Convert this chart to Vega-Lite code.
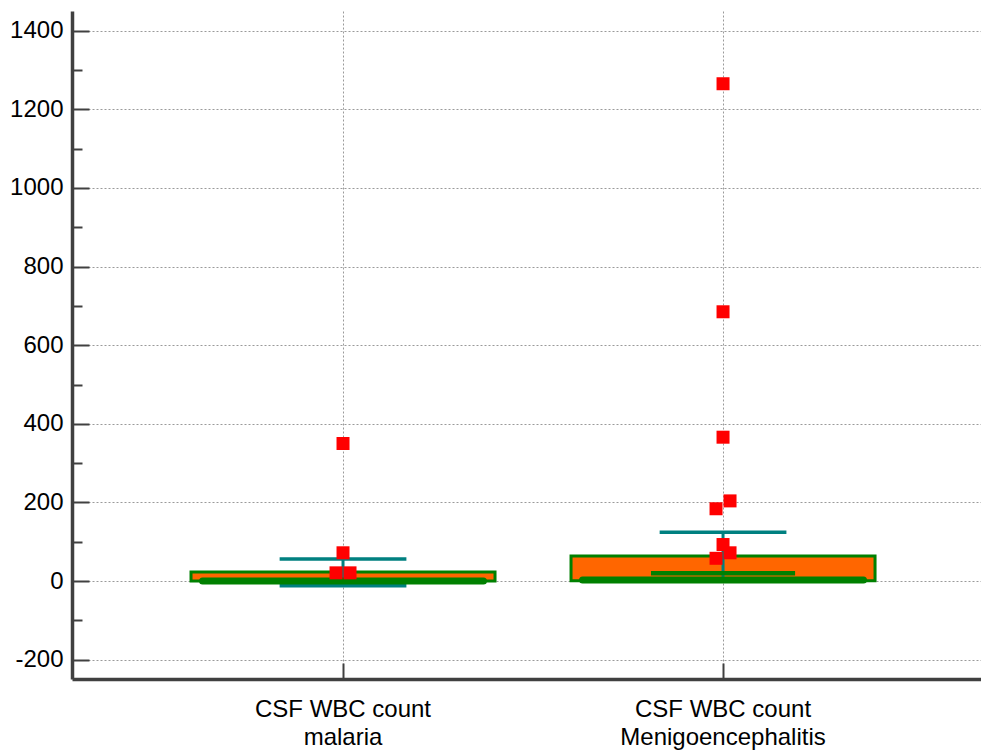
{
  "$schema": "https://vega.github.io/schema/vega-lite/v6.json",
  "width": 909,
  "height": 668,
  "autosize": {"type": "none"},
  "padding": {"left": 72, "top": 11, "right": 0, "bottom": 71},
  "background": "white",
  "config": {"view": {"stroke": null}, "font": "Liberation Sans"},
  "datasets": {
    "boxes": [
      {"group": "malaria", "q1": 0, "q3": 23, "med": 0, "wlo": -12, "whi": 56, "inner": null},
      {"group": "Menigoencephalitis", "q1": 1, "q3": 64, "med": 3, "wlo": 1, "whi": 124, "inner": 20}
    ],
    "outliers": [
      {"group": "malaria", "value": 350, "jit": 0},
      {"group": "malaria", "value": 72, "jit": 0},
      {"group": "malaria", "value": 21, "jit": -1},
      {"group": "malaria", "value": 21, "jit": 1},
      {"group": "Menigoencephalitis", "value": 1265, "jit": 0},
      {"group": "Menigoencephalitis", "value": 685, "jit": 0},
      {"group": "Menigoencephalitis", "value": 366, "jit": 0},
      {"group": "Menigoencephalitis", "value": 204, "jit": 1},
      {"group": "Menigoencephalitis", "value": 184, "jit": -1},
      {"group": "Menigoencephalitis", "value": 93, "jit": 0},
      {"group": "Menigoencephalitis", "value": 72, "jit": 1},
      {"group": "Menigoencephalitis", "value": 58, "jit": -1}
    ]
  },
  "resolve": {"scale": {"xOffset": "independent"}},
  "encoding": {
    "x": {
      "field": "group",
      "type": "nominal",
      "sort": ["malaria", "Menigoencephalitis"],
      "scale": {"type": "band", "paddingInner": 0.2, "paddingOuter": 0.296, "align": 0.529},
      "axis": {
        "title": null,
        "labelExpr": "['CSF WBC count', datum.label]",
        "labelFontSize": 24,
        "labelColor": "black",
        "labelAngle": 0,
        "labelLimit": 0,
        "labelLineHeight": 28,
        "labelBaseline": "top",
        "labelPadding": 34,
        "tickSize": -16,
        "tickBand": "center",
        "tickColor": "#404040",
        "tickWidth": 2,
        "domainColor": "#404040",
        "domainWidth": 3.5,
        "grid": true,
        "gridColor": "#9a9a9a",
        "gridDash": [2, 2],
        "gridWidth": 1
      }
    }
  },
  "layer": [
    {
      "data": {"name": "boxes"},
      "mark": {"type": "bar", "fill": "#FF6600", "stroke": "#008000", "strokeWidth": 3},
      "encoding": {
        "y": {
          "field": "q1",
          "type": "quantitative",
          "scale": {"domain": [-249, 1450], "nice": false, "zero": false},
          "axis": {
            "title": null,
            "values": [-200, -100, 0, 100, 200, 300, 400, 500, 600, 700, 800, 900, 1000, 1100, 1200, 1300, 1400],
            "labelExpr": "datum.value % 200 === 0 ? '' + datum.value : ''",
            "labelFontSize": 24,
            "labelColor": "black",
            "labelPadding": 26,
            "labelOverlap": false,
            "labelBound": false,
            "labelFlush": false,
            "tickSize": {"condition": {"test": "datum.value % 200 !== 0", "value": -10}, "value": -17},
            "tickColor": "#404040",
            "tickWidth": 2,
            "domainColor": "#404040",
            "domainWidth": 3.5,
            "grid": true,
            "gridColor": "#9a9a9a",
            "gridDash": [2, 2],
            "gridWidth": 1,
            "gridOpacity": {"condition": {"test": "datum.value % 200 !== 0", "value": 0}, "value": 1}
          }
        },
        "y2": {"field": "q3"}
      }
    },
    {
      "data": {"name": "boxes"},
      "mark": {"type": "rule", "stroke": "#008080", "strokeWidth": 3},
      "encoding": {
        "y": {"field": "wlo", "type": "quantitative"},
        "y2": {"field": "whi"}
      }
    },
    {
      "data": {"name": "boxes"},
      "mark": {"type": "bar", "width": {"band": 0.417}, "fill": "#008080", "stroke": "#008080", "strokeWidth": 3.5},
      "encoding": {
        "y": {"field": "whi", "type": "quantitative"},
        "y2": {"field": "whi"}
      }
    },
    {
      "data": {"name": "boxes"},
      "mark": {"type": "bar", "width": {"band": 0.417}, "fill": "#008080", "stroke": "#008080", "strokeWidth": 3.5},
      "encoding": {
        "y": {"field": "wlo", "type": "quantitative"},
        "y2": {"field": "wlo"}
      }
    },
    {
      "data": {"name": "boxes"},
      "mark": {"type": "bar", "width": {"band": 0.474}, "fill": "#008000", "stroke": "#008000", "strokeWidth": 4.5},
      "encoding": {
        "y": {"field": "inner", "type": "quantitative"},
        "y2": {"field": "inner"}
      }
    },
    {
      "data": {"name": "boxes"},
      "mark": {"type": "bar", "width": {"band": 0.924}, "fill": "#008000", "stroke": "#008000", "strokeWidth": 7, "strokeJoin": "round"},
      "encoding": {
        "y": {"field": "med", "type": "quantitative"},
        "y2": {"field": "med"}
      }
    },
    {
      "data": {"name": "outliers"},
      "mark": {"type": "point", "shape": "square", "filled": true, "size": 169, "fill": "#FF0000", "opacity": 1, "strokeWidth": 0},
      "encoding": {
        "y": {"field": "value", "type": "quantitative"},
        "xOffset": {"field": "jit", "type": "quantitative", "scale": {"domain": [-21.714, 21.714], "nice": false, "zero": false}, "legend": null}
      }
    }
  ]
}
